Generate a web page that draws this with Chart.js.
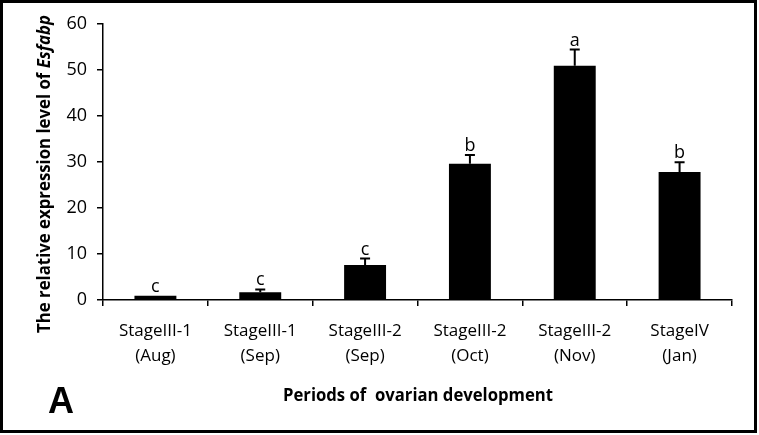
<!DOCTYPE html>
<html>
<head>
<meta charset="utf-8">
<script src="https://cdn.jsdelivr.net/npm/chart.js@4"></script>
<style>
    html, body { margin: 0; padding: 0; background: #fff; }
    #frame {
        position: absolute; left: 0; top: 0;
        width: 757px; height: 433px;
        box-sizing: border-box;
        border: 3px solid #000;
        background: #fff;
    }
    #chartCanvas { display: block; }
</style>
</head>
<body>
<div id="frame"><canvas id="chartCanvas" width="751" height="427"></canvas></div>
<script>
// 데이터
const categories = [
    ['StageIII-1', '(Aug)'],
    ['StageIII-1', '(Sep)'],
    ['StageIII-2', '(Sep)'],
    ['StageIII-2', '(Oct)'],
    ['StageIII-2', '(Nov)'],
    ['StageIV', '(Jan)']
];
const expression = [0.9, 1.7, 7.6, 29.6, 50.9, 27.8];
const errorUp = [0, 0.6, 1.4, 1.9, 3.5, 2.1];
const groupLetters = ['c', 'c', 'c', 'b', 'a', 'b'];
const yTicks = [0, 10, 20, 30, 40, 50, 60];

const FONT = '"Open Sans", "Liberation Sans", sans-serif';

// 텍스트를 주어진 폭에 맞춰 그리기 (여러 스타일 조각)
function drawFitted(ctx, parts, cx, cy, targetWidth, angle) {
    ctx.save();
    ctx.translate(cx, cy);
    ctx.rotate(angle);
    let total = 0;
    parts.forEach(p => {
        ctx.font = p.font;
        p.w = ctx.measureText(p.text).width;
        total += p.w;
    });
    const s = targetWidth / total;
    ctx.scale(s, 1);
    ctx.fillStyle = '#000';
    ctx.textBaseline = 'middle';
    ctx.textAlign = 'left';
    let x = -total / 2;
    parts.forEach(p => {
        ctx.font = p.font;
        ctx.fillText(p.text, x, 0);
        x += p.w;
    });
    ctx.restore();
}

// 오차 막대 + 유의성 문자 + 축 제목
const annotationPlugin = {
    id: 'annotations',
    afterDatasetsDraw(chart) {
        const ctx = chart.ctx;
        const ys = chart.scales.y;
        const meta = chart.getDatasetMeta(0);

        ctx.save();
        ctx.strokeStyle = '#000';
        ctx.lineWidth = 2;
        meta.data.forEach((bar, i) => {
            const top = ys.getPixelForValue(expression[i]);
            let labelY = top;
            if (errorUp[i] > 0) {
                const errTop = ys.getPixelForValue(expression[i] + errorUp[i]);
                ctx.beginPath();
                ctx.moveTo(bar.x, top);
                ctx.lineTo(bar.x, errTop);
                ctx.moveTo(bar.x - 5, errTop);
                ctx.lineTo(bar.x + 5, errTop);
                ctx.stroke();
                labelY = errTop;
            }
            ctx.fillStyle = '#000';
            ctx.font = '18px ' + FONT;
            ctx.textAlign = 'center';
            ctx.textBaseline = 'alphabetic';
            ctx.fillText(groupLetters[i], bar.x, labelY - 4);
        });
        ctx.restore();

        // y축 제목
        drawFitted(ctx, [
            { text: 'The relative expression level of ', font: 'bold 17px ' + FONT },
            { text: 'Esfabp', font: 'italic bold 17px ' + FONT }
        ], 42, 171, 318, -Math.PI / 2);

        // x축 제목
        drawFitted(ctx, [
            { text: 'Periods of  ovarian development', font: 'bold 17px ' + FONT }
        ], 415, 393, 270, 0);

        // 패널 문자
        ctx.save();
        ctx.fillStyle = '#000';
        ctx.font = 'bold 36px "Liberation Sans", sans-serif';
        ctx.textAlign = 'center';
        ctx.textBaseline = 'alphabetic';
        ctx.fillText('A', 58, 410);
        ctx.restore();
    }
};

new Chart(document.getElementById('chartCanvas').getContext('2d'), {
    type: 'bar',
    data: {
        labels: categories,
        datasets: [{
            data: expression,
            backgroundColor: '#000',
            borderWidth: 0,
            barPercentage: 0.4,
            categoryPercentage: 1.0
        }]
    },
    options: {
        responsive: false,
        animation: false,
        events: [],
        layout: {
            padding: { top: 19, right: 22, left: 0, bottom: 0 }
        },
        plugins: {
            legend: { display: false },
            tooltip: { enabled: false }
        },
        scales: {
            x: {
                offset: true,
                afterFit: scale => { scale.height = 130; },
                border: { color: '#000', width: 1.5 },
                grid: {
                    offset: true,
                    drawOnChartArea: false,
                    drawTicks: true,
                    tickLength: 6,
                    color: '#000',
                    lineWidth: 1.5
                },
                ticks: {
                    color: '#000',
                    font: { family: FONT, size: 17, lineHeight: 1.45 },
                    padding: 13,
                    maxRotation: 0,
                    autoSkip: false
                }
            },
            y: {
                min: 0,
                max: 60,
                afterFit: scale => { scale.width = 100; },
                afterBuildTicks: scale => {
                    scale.ticks = yTicks.map(v => ({ value: v }));
                },
                border: { color: '#000', width: 1.5 },
                grid: {
                    drawOnChartArea: false,
                    drawTicks: true,
                    tickLength: 6,
                    color: '#000',
                    lineWidth: 1.5
                },
                ticks: {
                    color: '#000',
                    font: { family: FONT, size: 18 },
                    padding: 10
                }
            }
        }
    },
    plugins: [annotationPlugin]
});
</script>
</body>
</html>
